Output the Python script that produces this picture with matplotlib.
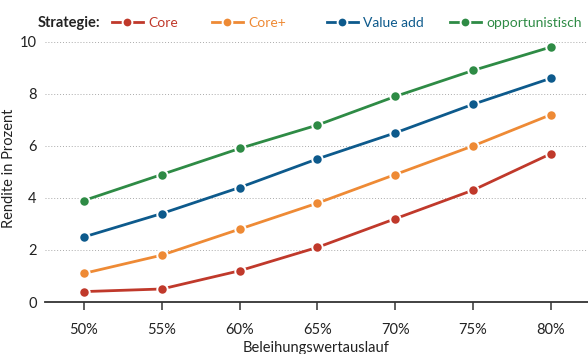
import matplotlib.pyplot as plt
from matplotlib.lines import Line2D

plt.rcParams['font.family'] = ['Lato', 'DejaVu Sans']

# Beleihungswertauslauf vs. Rendite je Strategie
ltv_labels = ['50%', '55%', '60%', '65%', '70%', '75%', '80%']
core = [0.4, 0.5, 1.2, 2.1, 3.2, 4.3, 5.7]
core_plus = [1.1, 1.8, 2.8, 3.8, 4.9, 6.0, 7.2]
value_add = [2.5, 3.4, 4.4, 5.5, 6.5, 7.6, 8.6]
opportunistic = [3.9, 4.9, 5.9, 6.8, 7.9, 8.9, 9.8]

series = [
    ('Core', core, '#c0392b'),
    ('Core+', core_plus, '#ee8a35'),
    ('Value add', value_add, '#0d5a8c'),
    ('opportunistisch', opportunistic, '#2e8b45'),
]
# left edge of each legend entry (pixels)
legend_x = [112, 212, 327, 450]

fig = plt.figure(figsize=(5.88, 3.54), dpi=100)
ax = fig.add_axes([45 / 588, 52 / 354, 543 / 588, 268 / 354])

x = range(len(ltv_labels))
for (name, vals, col), lx in zip(series, legend_x):
    ax.plot(x, vals, color=col, lw=2, marker='o', markersize=7.5,
            markerfacecolor=col, markeredgecolor='white', markeredgewidth=1.4,
            zorder=3, clip_on=False)
    h = Line2D([0], [0], color=col, lw=2, marker='o', markersize=7,
               markerfacecolor=col, markeredgecolor='white',
               markeredgewidth=1.4, label=name)
    leg = fig.legend(handles=[h], loc='center left', frameon=False,
                     bbox_to_anchor=(lx / 588, 1 - 23 / 354), handlelength=2.2,
                     handletextpad=0.4, fontsize=10,
                     borderaxespad=0, borderpad=0)
    leg.get_texts()[0].set_color(col)

ax.set_xlim(-0.5, 6.476)
ax.set_ylim(0, 10.3)
ax.set_xticks(list(x))
ax.set_xticklabels(ltv_labels)
ax.set_yticks([0, 2, 4, 6, 8, 10])

for s in ['top', 'right', 'left']:
    ax.spines[s].set_visible(False)
ax.spines['bottom'].set_color('#333333')
ax.spines['bottom'].set_linewidth(1.3)
ax.yaxis.grid(True, color='#aaaaaa', linestyle=(0, (1, 2)), lw=0.7)
ax.set_axisbelow(True)
ax.tick_params(axis='y', length=0, labelsize=10.5, colors='#222222', pad=6)
ax.tick_params(axis='x', length=6, width=1.1, color='#333333',
               labelsize=10.5, labelcolor='#222222', pad=9)

ax.set_ylabel('Rendite in Prozent', fontsize=10.5, color='#222222')
ax.yaxis.set_label_coords(-29 / 543, 0.5)
ax.set_xlabel('Beleihungswertauslauf', fontsize=10.5, color='#222222', labelpad=3)

fig.text(38 / 588, 1 - 23 / 354, 'Strategie:', fontsize=10.5, fontweight='bold',
         color='#222222', va='center', ha='left')

fig.savefig('out.png', dpi=100)
